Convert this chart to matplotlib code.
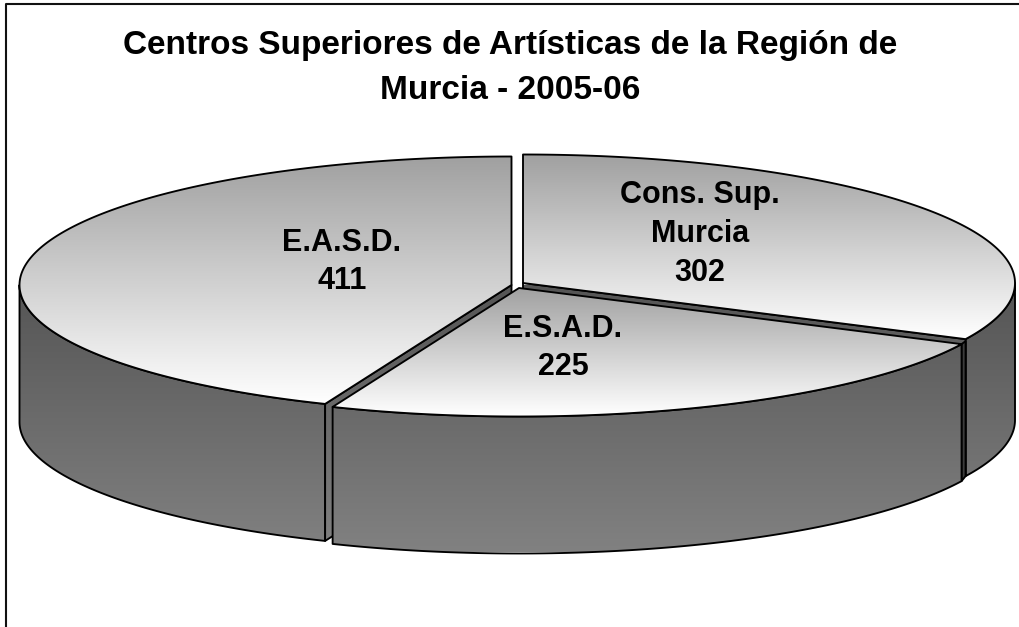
import numpy as np
import matplotlib
matplotlib.use('Agg')
import matplotlib.pyplot as plt
from matplotlib.colors import LinearSegmentedColormap
from matplotlib.patches import Polygon

plt.rcParams['font.family'] = ['Liberation Sans', 'DejaVu Sans']

title = 'Centros Superiores de Artísticas de la Región de\nMurcia - 2005-06'
names = ['Cons. Sup.\nMurcia', 'E.S.A.D.', 'E.A.S.D.']
values = [302, 225, 411]

WIDTH, HEIGHT = 1020, 627
DEPTH = 137

top_cmap = LinearSegmentedColormap.from_list('top', ['#a0a0a0', '#ffffff'])
wall_cmap = LinearSegmentedColormap.from_list('wall', ['#555555', '#818181'])


def rim_points(center, start, end, radii=(492, 128.5)):
    # angles are clockwise from 12 o'clock, in degrees
    t = np.radians(np.linspace(start, end, 200))
    x = center[0] + radii[0] * np.sin(t)
    y = center[1] - radii[1] * np.cos(t)
    return np.column_stack([x, y])


def fill_gradient(ax, points, cmap, y_start, y_end):
    patch = Polygon(points, closed=True, facecolor='none', edgecolor='none')
    ax.add_patch(patch)
    image = ax.imshow(np.linspace(0, 1, 256).reshape(-1, 1), cmap=cmap, aspect='auto',
                      extent=(0, WIDTH, y_end, y_start), vmin=0, vmax=1, zorder=ax.zorder_next())
    image.set_clip_path(patch)
    ax.add_patch(Polygon(points, closed=True, facecolor='none', edgecolor='black',
                         linewidth=1.35, joinstyle='round', zorder=ax.zorder_next()))


def draw_wall(ax, center, start, end):
    rim = rim_points(center, start, end)
    lower = rim[::-1] + [0, DEPTH]
    fill_gradient(ax, np.vstack([rim, lower]), wall_cmap, 285, 552)


def draw_cut(ax, center, angle):
    rim = rim_points(center, angle, angle)[0]
    apex = np.array(center, dtype=float)
    points = np.array([apex, rim, rim + [0, DEPTH], apex + [0, DEPTH]])
    fill_gradient(ax, points, wall_cmap, 285, 552)
    return rim


def draw_top(ax, center, start, end):
    rim = rim_points(center, start, end)
    points = np.vstack([[center], rim])
    fill_gradient(ax, points, top_cmap, points[:, 1].min(), points[:, 1].max())


def main():
    fig = plt.figure(figsize=(WIDTH / 100, HEIGHT / 100), dpi=100)
    ax = fig.add_axes([0, 0, 1, 1])
    ax.set_xlim(0, WIDTH)
    ax.set_ylim(HEIGHT, 0)
    ax.axis('off')

    order = iter(range(2, 100))
    ax.zorder_next = lambda: next(order)

    ax.plot([6.5, 6.5, WIDTH], [HEIGHT, 3.8, 3.8], color='#111111', lw=1.5, zorder=1)

    angles = np.cumsum([0] + values) / sum(values) * 360
    cons_c, esad_c, easd_c = (523, 283), (519, 288), (511.5, 285)

    # back to front: E.A.S.D., Cons. Sup., then E.S.A.D. in front of both
    draw_wall(ax, easd_c, angles[2], 270)
    draw_cut(ax, easd_c, angles[2])
    draw_top(ax, easd_c, angles[2], angles[3])

    draw_wall(ax, cons_c, 90, angles[1])
    rim = draw_cut(ax, cons_c, angles[1])
    draw_top(ax, cons_c, angles[0], angles[1])

    edge = rim_points(esad_c, angles[1], angles[1])[0]
    ax.add_patch(Polygon([rim + [0, 2], edge, edge + [0, DEPTH], rim + [0, DEPTH]], closed=True,
                         facecolor='#3c3c3c', edgecolor='black', linewidth=1.35,
                         zorder=ax.zorder_next()))

    draw_wall(ax, esad_c, angles[1], angles[2])
    draw_top(ax, esad_c, angles[1], angles[2])

    ax.text(510, 68, title, ha='center', va='center', fontsize=24, fontweight='bold',
            linespacing=1.55, zorder=200)

    label_style = dict(ha='center', va='center', fontsize=22, fontweight='bold',
                       linespacing=1.38, zorder=200)
    ax.text(700, 234, f'{names[0]}\n{values[0]}', **label_style)
    ax.text(563, 348, f'{names[1]}\n{values[1]}', **label_style)
    ax.text(342, 262, f'{names[2]}\n{values[2]}', **label_style)

    fig.savefig('out.png', dpi=100, facecolor='white')


if __name__ == '__main__':
    main()
